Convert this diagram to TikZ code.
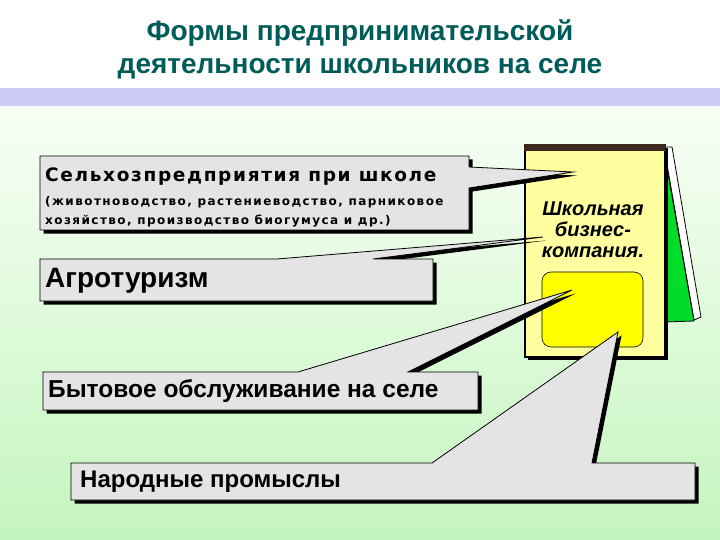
\documentclass[tikz,border=0pt]{standalone}
\usepackage{fontspec}
\setmainfont{Liberation Sans}
\newfontfamily\headfont[LetterSpace=9]{DejaVu Sans}
\newfontfamily\notefont[LetterSpace=12]{DejaVu Sans}
\usepackage{xcolor}
\usepackage{tikz}
\usetikzlibrary{positioning}

\definecolor{titleteal}{RGB}{0,92,88}
\definecolor{bandblue}{RGB}{204,204,245}
\definecolor{calloutgray}{RGB}{228,228,228}
\definecolor{padyellow}{RGB}{255,255,160}
\definecolor{screenyellow}{RGB}{255,255,0}
\definecolor{sheetgreen}{RGB}{0,220,40}
\definecolor{bindbrown}{RGB}{60,40,30}
\definecolor{bgtop}{RGB}{248,255,246}
\definecolor{bgbottom}{RGB}{196,245,190}

\begin{document}
\begin{tikzpicture}[
		x=1pt, y=-1pt,
		calloutbox/.style={fill=calloutgray, draw=black, line width=0.8pt, line join=miter},
		shadowfill/.style={fill=black, shift={(3.5,3.5)}},
		boxtext/.style={anchor=west, inner sep=0pt, text=black},
		padtext/.style={align=center, inner sep=0pt, font=\bfseries\itshape\fontsize{20}{21}\selectfont},
		titletext/.style={align=center, inner sep=0pt, text=titleteal, font=\bfseries\fontsize{28}{33}\selectfont}
		]
		\useasboundingbox (0,0) rectangle (720,540);
		
		% Background
		\fill[white] (0,0) rectangle (720,88);
		\fill[bandblue] (0,88) rectangle (720,107);
		\shade[top color=bgtop, bottom color=bgbottom] (0,107) rectangle (720,540);
		
		% Title
		\node[titletext] (title) at (360,49) {Формы предпринимательской\\деятельности школьников на селе};
		
		% Notepad (back sheets, body, screen)
		\filldraw[fill=white, draw=black, line width=0.8pt] (664,147) -- (672,147) -- (701,317) -- (694,320) -- cycle;
		\filldraw[fill=sheetgreen, draw=black, line width=0.8pt] (664,151) -- (694,321) -- (664,322) -- cycle;
		\fill[black] (528,148) rectangle (668,360);
		\filldraw[fill=padyellow, draw=black, line width=2.5pt] (525,145) rectangle (665,357);
		\fill[bindbrown] (523.75,143.75) rectangle (666.25,151);
		\filldraw[fill=screenyellow, draw=black, line width=0.6pt, rounded corners=9pt] (542,272) rectangle (643,347) node[pos=0.5] (screen) {};
		\node[padtext] (company) at (593,230) {Школьная\\бизнес-\\компания.};
		
		% Callouts
		\fill[shadowfill] (40,156) -- (469,156) -- (469,167) -- (573,172) -- (469,188) -- (469,230) -- (40,230) -- cycle;
		\filldraw[calloutbox] (40,156) -- (469,156) -- (469,167) -- (573,172) -- (469,188) -- (469,230) -- (40,230) -- cycle;
		
		\fill[shadowfill] (40,259) -- (277,259) -- (543,237) -- (373,259) -- (433,259) -- (433,301) -- (40,301) -- cycle;
		\filldraw[calloutbox] (40,259) -- (277,259) -- (543,237) -- (373,259) -- (433,259) -- (433,301) -- (40,301) -- cycle;
		
		\fill[shadowfill] (43,372) -- (298,372) -- (572,290) -- (408,372) -- (478,372) -- (478,410) -- (43,410) -- cycle;
		\filldraw[calloutbox] (43,372) -- (298,372) -- (572,290) -- (408,372) -- (478,372) -- (478,410) -- (43,410) -- cycle;
		
		\fill[shadowfill] (71,463) -- (432,463) -- (618,332) -- (592,463) -- (695,463) -- (695,500) -- (71,500) -- cycle;
		\filldraw[calloutbox] (71,463) -- (432,463) -- (618,332) -- (592,463) -- (695,463) -- (695,500) -- (71,500) -- cycle;
		
		% Callout texts
		\node[boxtext, font=\headfont\bfseries\fontsize{18.5}{20}\selectfont] (farm) at (45,177) {Сельхозпредприятия при школе};
		\node[boxtext, align=left, font=\notefont\bfseries\fontsize{12}{19}\selectfont] (farmnote) at (45,212) {(животноводство, растениеводство, парниковое\\хозяйство, производство биогумуса и др.)};
		\node[boxtext, font=\bfseries\fontsize{28}{30}\selectfont] (agro) at (45,281) {Агротуризм};
		\node[boxtext, font=\bfseries\fontsize{24.5}{28}\selectfont] (service) at (48,391) {Бытовое обслуживание на селе};
		\node[boxtext, font=\bfseries\fontsize{24}{28}\selectfont] (crafts) at (80,482) {Народные промыслы};
		
	\end{tikzpicture}
\end{document}
